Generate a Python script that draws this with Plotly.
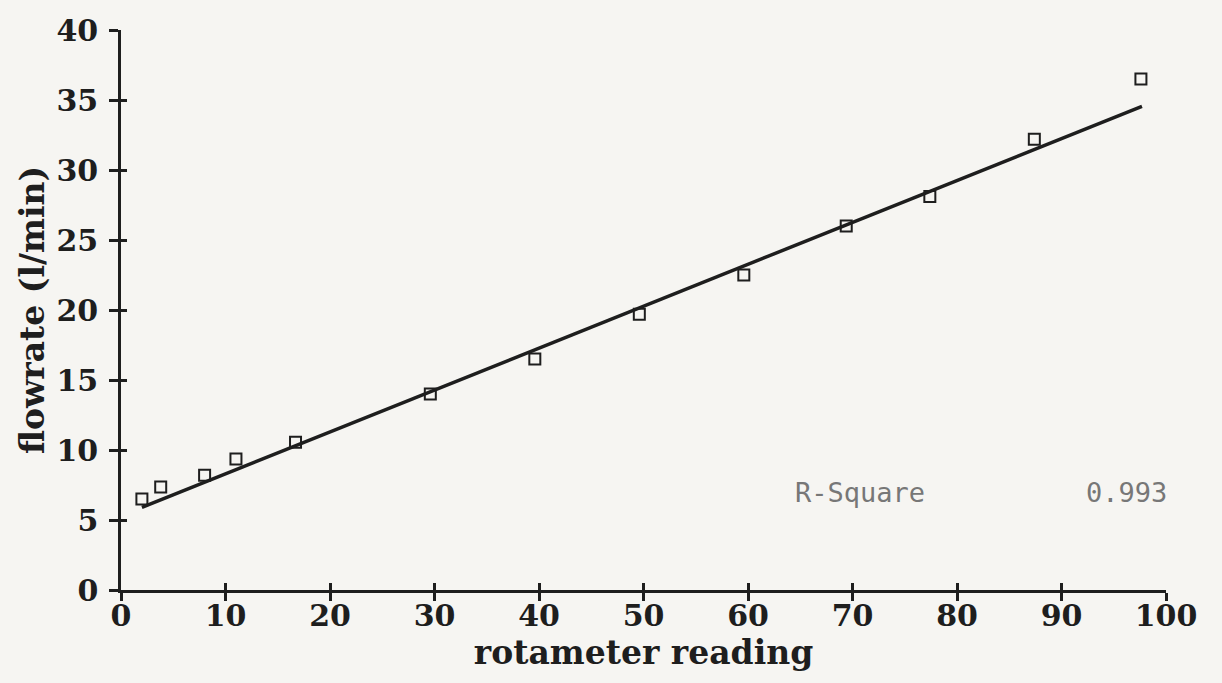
import plotly.graph_objects as go

# Data
rotameter = [2, 3.8, 8, 11, 16.7, 29.6, 39.6, 49.6, 59.6, 69.4, 77.4, 87.4, 97.6]
flowrate = [6.5, 7.35, 8.2, 9.35, 10.55, 14.0, 16.5, 19.7, 22.5, 26.0, 28.1, 32.2, 36.5]
fit_x = [2.0, 97.7]
fit_y = [5.9, 34.55]
x_ticks = [0, 10, 20, 30, 40, 50, 60, 70, 80, 90, 100]
y_ticks = [0, 5, 10, 15, 20, 25, 30, 35, 40]
r_square_label = "R-Square"
r_square_value = "0.993"

INK = "#1e1e1e"
PAPER = "#f6f5f2"
TICK_FONT = dict(family="DejaVu Serif", size=30, color=INK, weight="bold")
TITLE_FONT = dict(family="DejaVu Serif", size=33, color=INK, weight="bold")
NOTE_FONT = dict(family="DejaVu Sans Mono", size=27, color="#777777")

fig = go.Figure()

fig.add_trace(go.Scatter(
    x=fit_x, y=fit_y, mode="lines",
    line=dict(color=INK, width=3.5), showlegend=False, hoverinfo="skip",
))
fig.add_trace(go.Scatter(
    x=rotameter, y=flowrate, mode="markers",
    marker=dict(symbol="square-open", size=11, color=INK, line=dict(width=2, color=INK)),
    showlegend=False,
))
# invisible trace to carry the overlay axes (inner half of crossing ticks)
fig.add_trace(go.Scatter(
    x=[x_ticks[0]], y=[y_ticks[0]], xaxis="x2", yaxis="y2", mode="markers",
    marker=dict(opacity=0), showlegend=False, hoverinfo="skip",
))

fig.update_layout(
    width=1222, height=683,
    paper_bgcolor=PAPER, plot_bgcolor=PAPER,
    margin=dict(l=121, r=56, t=24, b=93),
    xaxis=dict(
        range=[0, 100], tickvals=x_ticks, ticktext=[str(v) for v in x_ticks],
        showgrid=False, zeroline=False,
        showline=True, linecolor=INK, linewidth=2.5,
        ticks="outside", ticklen=8, tickwidth=2.5, tickcolor=INK,
        tickfont=TICK_FONT, ticklabelstandoff=-11,
        title=dict(text="rotameter reading", font=TITLE_FONT, standoff=2),
    ),
    yaxis=dict(
        range=[0, 40], tickvals=y_ticks, ticktext=[str(v) for v in y_ticks],
        showgrid=False, zeroline=False,
        showline=True, linecolor=INK, linewidth=2.5,
        ticks="outside", ticklen=9, tickwidth=2.5, tickcolor=INK,
        tickfont=TICK_FONT, ticklabelstandoff=5,
        title=dict(text="flowrate (l/min)", font=TITLE_FONT, standoff=2),
    ),
    xaxis2=dict(
        overlaying="x", side="bottom", range=[0, 100], tickvals=x_ticks,
        showticklabels=False, showgrid=False, zeroline=False, showline=False,
        ticks="inside", ticklen=7, tickwidth=2.5, tickcolor=INK,
    ),
    yaxis2=dict(
        overlaying="y", side="left", range=[0, 40], tickvals=y_ticks,
        showticklabels=False, showgrid=False, zeroline=False, showline=False,
        ticks="inside", ticklen=6, tickwidth=2.5, tickcolor=INK,
    ),
    annotations=[
        dict(text=r_square_label, x=0.643, y=0.175, xref="paper", yref="paper",
             xanchor="left", yanchor="middle", showarrow=False, font=NOTE_FONT),
        dict(text=r_square_value, x=1.003, y=0.175, xref="paper", yref="paper",
             xanchor="right", yanchor="middle", showarrow=False, font=NOTE_FONT),
    ],
)

fig.write_html(
    "out.html",
    config={"displayModeBar": False},
    post_script=f"document.body.style.margin='0';document.body.style.background='{PAPER}';",
)
